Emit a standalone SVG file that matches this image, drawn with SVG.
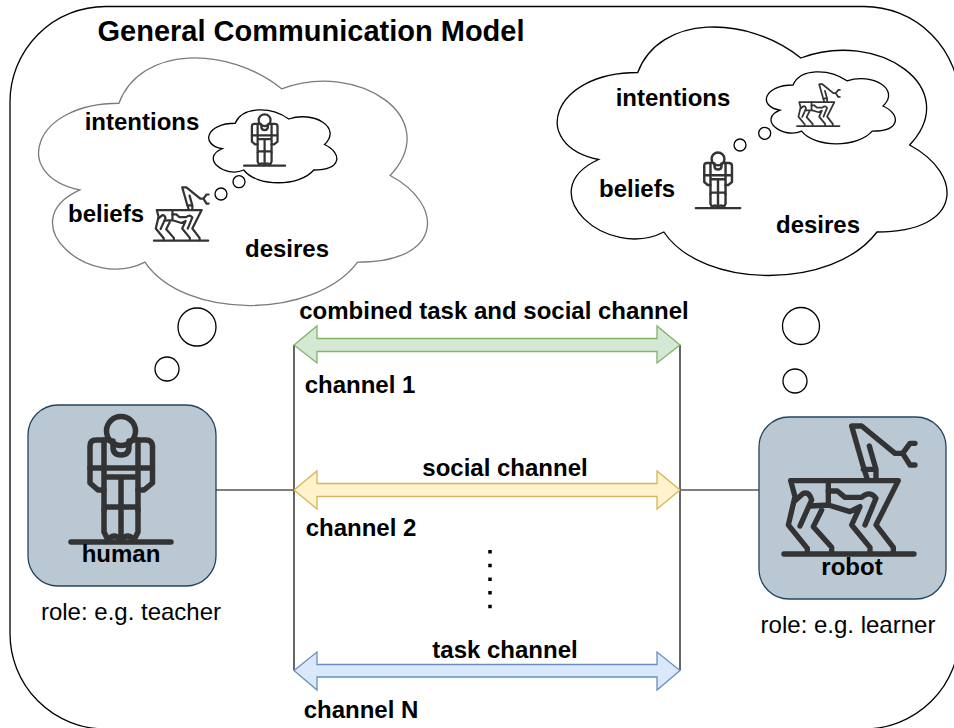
<svg xmlns="http://www.w3.org/2000/svg" width="954" height="728" viewBox="0 0 954 728">
<style>
text{font-family:"Liberation Sans",Arial,sans-serif;font-weight:700;font-size:24px;fill:#000;text-anchor:middle}
.r{font-weight:400}
.cl{fill:#fff;stroke:#000;stroke-width:1.3}
.bc{fill:#fff;stroke:#7a7a7a;stroke-width:1.3}
.b{fill:#bac8d3;stroke:#23445d;stroke-width:1.3}
.th{fill:#fff;stroke:#000;stroke-width:1.3}
.ln{fill:none;stroke:#000;stroke-width:1.2}
.ic{fill:none;stroke:#333;stroke-linecap:round;stroke-linejoin:round}
</style>
<defs>
<path id="cloud" vector-effect="non-scaling-stroke" d="M.25 .25C.05 .25 0 .5 .16 .55C0 .66 .18 .9 .31 .8C.4 1 .7 1 .8 .8C1 .8 1 .6 .875 .5C1 .3 .8 .1 .625 .2C.5 .05 .3 .05 .25 .25Z"/>
<g id="humanIcon" class="ic" stroke-width="5.500">
<path d="M71 542H171"/>
<circle cx="121" cy="431" r="14.500"/>
<path d="M108 440H96Q90 440 90 446V483L98 490H104M134 440H146Q152 440 152.500 446V483L144 490H138"/>
<path d="M104 440V510M138 440V510M90 468H152M104 477H138M121 477V540M104 507H138"/>
<path d="M113 441V447Q113 455 121 455Q129 455 129 447V441"/>
<path d="M104 510V532L108 540Q114 532 121 540Q128 532 134 540L138 532V510"/>
</g>
<g id="robotIcon" class="ic" stroke-width="16">
<path d="M102 432H492"/>
<path d="M352 208L340 170L305 48H335L435 130H458L480 100H495M458 130L480 165H495M358 108L378 178V208M340 178H378"/>
<path d="M122 212H445L378 345L430 412V430M122 212L135 260L115 345L172 415V430"/>
<path d="M150 348L185 270Q178 245 160 250L135 272M235 212V285M182 288L235 285L300 305L330 290L305 345L360 412V430M215 300L190 350L245 412V430"/>
<path d="M235 243H262L285 262H335Q360 240 378 265L345 345"/>
</g>
</defs>
<g id="frame"><rect x="10" y="6.500" width="949.500" height="722.500" rx="95.500" fill="#fff" stroke="#000" stroke-width="1.3"/></g>
<g id="title"><text x="311" y="41" style="font-size:29px">General Communication Model</text></g>

<g id="human-thoughts">
<use href="#cloud" class="bc" transform="translate(10.400 31) scale(434 289)"/>
<text x="142" y="130">intentions</text><text x="106" y="222">beliefs</text><text x="287" y="257">desires</text>
<use href="#cloud" class="cl" transform="translate(199.400 102) scale(143 85)"/>
<use href="#humanIcon" transform="translate(215 -56.500) scale(.41)"/>
<use href="#robotIcon" transform="translate(139.800 180.600) scale(.139)"/>
<circle class="th" cx="239" cy="181.700" r="6"/><circle class="th" cx="221" cy="194" r="6"/>
<circle class="th" cx="197" cy="327" r="19"/><circle class="th" cx="167" cy="369" r="12"/>
</g>
<g id="robot-thoughts">
<use href="#cloud" class="cl" transform="translate(529 0) scale(435 290)"/>
<text x="673" y="106">intentions</text><text x="637" y="197">beliefs</text><text x="818" y="233">desires</text>
<use href="#cloud" class="cl" transform="translate(757 64) scale(144 84)"/>
<use href="#robotIcon" transform="translate(785.900 79) scale(.109)"/>
<use href="#humanIcon" transform="translate(664.400 -32) scale(.443)"/>
<circle class="th" cx="764.700" cy="133.300" r="6"/><circle class="th" cx="740" cy="145" r="6"/>
<circle class="th" cx="801" cy="326" r="18.500"/><circle class="th" cx="795" cy="381" r="12"/>
</g>
<g id="connectors">
<path class="ln" d="M294 345V670M680 345V670M216 490H294M680 490H759"/>
<path d="M294 345L317 326V338.500H657V326L680 345L657 363V351.500H317V363Z" fill="#d5e8d4" stroke="#82b366" stroke-width="1.300"/>
<path d="M294 490L317 471V483.500H657V471L680 490L657 509V496.500H317V509Z" fill="#fff2cc" stroke="#d6b656" stroke-width="1.300"/>
<path d="M294 670.500L317 652V664.500H657V652L680 670.500L657 690V677H317V690Z" fill="#dae8fc" stroke="#6c8ebf" stroke-width="1.300"/>
<path d="M490 550V612" fill="none" stroke="#000" stroke-width="3.500" stroke-dasharray="3.500 10.200"/>
</g>
<g id="human"><rect class="b" x="28" y="405" width="188" height="181" rx="30"/><use href="#humanIcon"/><text x="121" y="562">human</text><text class="r" x="131" y="620">role: e.g. teacher</text></g>
<g id="robot"><rect class="b" x="759" y="417" width="187" height="182" rx="30"/><use href="#robotIcon" transform="translate(750 410) scale(.3333)"/><text x="852" y="575">robot</text><text class="r" x="848" y="633">role: e.g. learner</text></g>
<g id="labels">
<text x="494" y="319">combined task and social channel</text>
<text x="360" y="393">channel 1</text>
<text x="505" y="476">social channel</text>
<text x="361" y="536">channel 2</text>
<text x="505" y="658">task channel</text>
<text x="361" y="718">channel N</text>
</g>
</svg>
